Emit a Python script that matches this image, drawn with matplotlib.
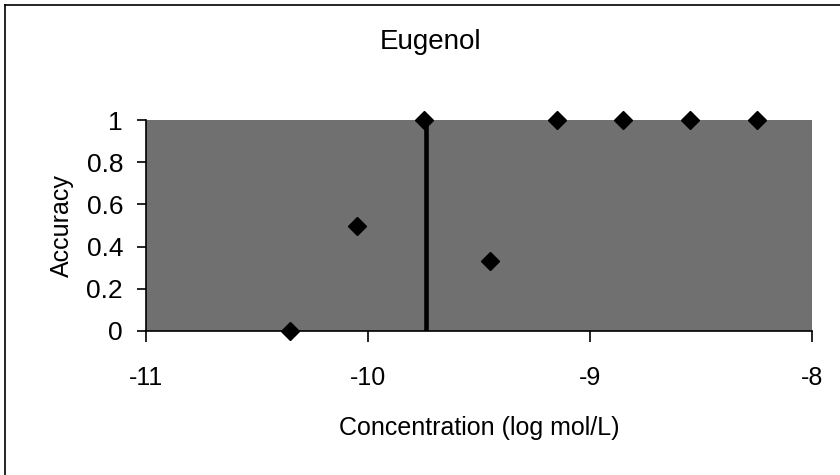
import matplotlib
matplotlib.use("Agg")
import matplotlib.pyplot as plt
from matplotlib.lines import Line2D

title = "Eugenol"
x_label = "Concentration (log mol/L)"
y_label = "Accuracy"
conc = [-10.35, -10.05, -9.75, -9.45, -9.15, -8.85, -8.55, -8.25]
accuracy = [0.0, 0.5, 1.0, 0.33, 1.0, 1.0, 1.0, 1.0]
threshold = -9.74
x_ticks = [-11, -10, -9, -8]
y_ticks = [0, 0.2, 0.4, 0.6, 0.8, 1]
y_tick_labels = ["0", "0.2", "0.4", "0.6", "0.8", "1"]

plt.rcParams['font.family'] = ['Liberation Sans', 'DejaVu Sans']

fig = plt.figure(figsize=(8.4, 4.75), dpi=100)
fig.patch.set_facecolor('white')
# partial outer frame (top and left edges only, as in the cropped scan)
fig.lines.append(Line2D([5/840, 5/840], [0, 1 - 5/475], transform=fig.transFigure,
                        color='black', linewidth=1.2))
fig.lines.append(Line2D([5/840, 1], [1 - 5/475, 1 - 5/475], transform=fig.transFigure,
                        color='black', linewidth=1.2))

ax = fig.add_axes([146/840, 1 - 331/475, 666/840, 211/475])
ax.set_facecolor('#707070')
ax.set_xlim(-11, -8)
ax.set_ylim(0, 1)

ax.axvline(threshold, color='black', linewidth=3.3, zorder=2)
ax.plot(conc, accuracy, linestyle='none', marker='D', markersize=9,
        color='black', clip_on=False, zorder=3)

ax.set_xticks(x_ticks)
ax.set_xticklabels([str(t) for t in x_ticks])
ax.set_yticks(y_ticks)
ax.set_yticklabels(y_tick_labels)
ax.tick_params(axis='both', direction='out', width=1.2, colors='black')
ax.tick_params(axis='x', length=8, pad=17, labelsize=18)
ax.tick_params(axis='y', length=6.5, pad=10, labelsize=19)
for s in ['top', 'right']:
    ax.spines[s].set_visible(False)
for s in ['left', 'bottom']:
    ax.spines[s].set_linewidth(1.2)

ax.set_xlabel(x_label, fontsize=18, labelpad=19)
ax.set_ylabel(y_label, fontsize=18, labelpad=9)
fig.text(431/840, 1 - 42/475, title, fontsize=20, ha='center', va='center')

fig.savefig("out.png", dpi=100)
